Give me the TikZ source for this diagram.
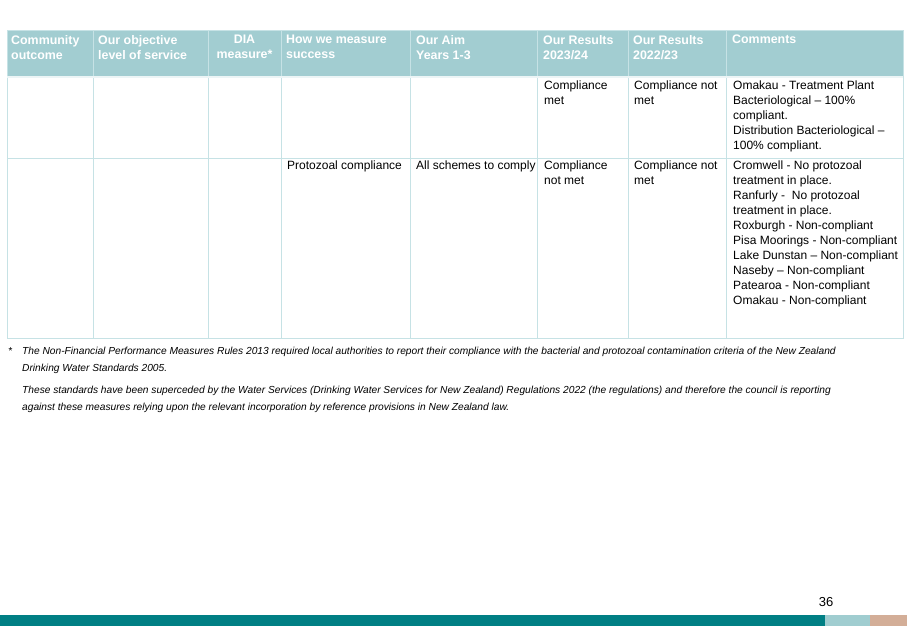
\documentclass[tikz,border=0pt]{standalone}
\usepackage{fontspec}
\setmainfont{Liberation Sans}
\definecolor{hdr}{HTML}{A2CDD1}
\definecolor{grid}{HTML}{C6E2E5}
\definecolor{teal}{HTML}{007F84}
\definecolor{lteal}{HTML}{A0CDD0}
\definecolor{tan}{HTML}{D3AE98}
\begin{document}
\begin{tikzpicture}[x=1pt,y=-1pt,
  hd/.style={anchor=north west,inner sep=0pt,align=left,text=white,font=\fontsize{12.4}{15}\selectfont\bfseries},
  cell/.style={anchor=north west,inner sep=0pt,align=left,font=\fontsize{12}{15}\selectfont},
  fn/.style={anchor=north west,inner sep=0pt,align=left,font=\fontsize{10.2}{16.5}\selectfont\itshape}]
\useasboundingbox (0,0) rectangle (907,626);
\fill[white] (0,0) rectangle (907,626);
\fill[hdr] (7,31) rectangle (903,77);
\draw[grid,line width=1pt] (7,31) rectangle (903,338);
\draw[grid,line width=1pt] (7,158) -- (903,158);
\foreach \x in {93,208,281,410,537,628,726} \draw[grid,line width=1pt] (\x,31) -- (\x,338);
\draw[white!80!hdr,line width=1.5pt] (7,77) -- (903,77);
% header
\node[hd] (h1) at (11,35) {Community\\outcome};
\node[hd] (h2) at (98,35) {Our objective\\level of service};
\node[hd,align=center,anchor=north] (h3) at (244.5,35) {DIA\\measure*};
\node[hd] (h4) at (286,35) {How we measure\\success};
\node[hd] (h5) at (416,35) {Our Aim\\Years 1-3};
\node[hd] (h6) at (543,35) {Our Results\\2023/24};
\node[hd] (h7) at (633,35) {Our Results\\2022/23};
\node[hd] (h8) at (732,35) {Comments};
% row 1
\node[cell] (r1a) at (544,81) {Compliance\\met};
\node[cell] (r1b) at (634,81) {Compliance not\\met};
\node[cell] (r1c) at (733,81) {Omakau - Treatment Plant\\Bacteriological – 100\%\\compliant.\\Distribution Bacteriological –\\100\% compliant.};
% row 2
\node[cell] (r2a) at (287,161) {Protozoal compliance};
\node[cell] (r2b) at (416,161) {All schemes to comply};
\node[cell] (r2c) at (544,161) {Compliance\\not met};
\node[cell] (r2d) at (634,161) {Compliance not\\met};
\node[cell] (r2e) at (733,161) {Cromwell - No protozoal\\treatment in place.\\Ranfurly -\ \ No protozoal\\treatment in place.\\Roxburgh - Non-compliant\\Pisa Moorings - Non-compliant\\Lake Dunstan – Non-compliant\\Naseby – Non-compliant\\Patearoa - Non-compliant\\Omakau - Non-compliant};
% footnote
\node[fn] (star) at (8,347) {*};
\node[fn] (f1) at (22,347) {The Non-Financial Performance Measures Rules 2013 required local authorities to report their compliance with the bacterial and protozoal contamination criteria of the New Zealand\\Drinking Water Standards 2005.};
\node[fn] (f2) at (22,386) {These standards have been superceded by the Water Services (Drinking Water Services for New Zealand) Regulations 2022 (the regulations) and therefore the council is reporting\\against these measures relying upon the relevant incorporation by reference provisions in New Zealand law.};
% page number and bar
\node[cell,anchor=center,font=\fontsize{13}{15}\selectfont] (pg) at (826,602) {36};
\fill[teal] (0,615) rectangle (825,626);
\fill[lteal] (825,615) rectangle (870,626);
\fill[tan] (870,615) rectangle (907,626);
\end{tikzpicture}
\end{document}
